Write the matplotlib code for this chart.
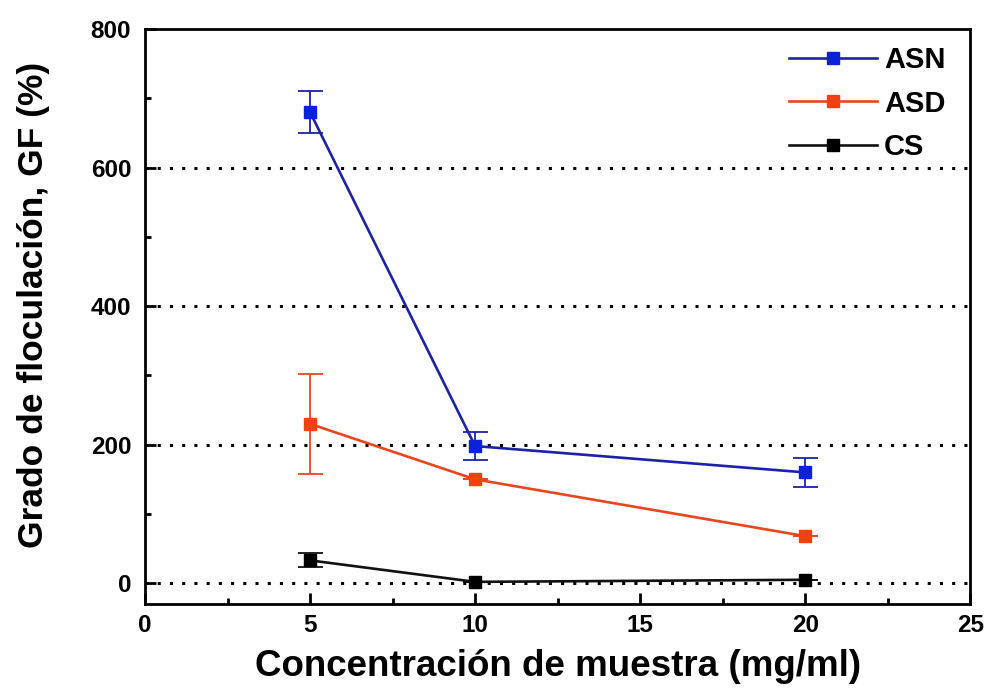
import matplotlib
matplotlib.use("Agg")
import matplotlib.pyplot as plt
from matplotlib.ticker import MultipleLocator

plt.rcParams['font.family'] = ['Liberation Sans', 'DejaVu Sans']
plt.rcParams['font.weight'] = 'bold'

conc = [5, 10, 20]

asn = [680, 198, 160]
asn_err = [30, 20, 21]

asd = [230, 150, 68]
asd_err = [72, 0, 0]

cs = [33, 2, 5]
cs_err = [10, 0, 0]

series = [
    ("ASN", asn, asn_err, "#1c22a6", "#0c22d8"),
    ("ASD", asd, asd_err, "#e8461e", "#f0420f"),
    ("CS", cs, cs_err, "#111111", "#000000"),
]

fig = plt.figure(figsize=(9.9, 6.9), dpi=100)
ax = fig.add_axes([0.1465, 0.1246, 0.8335, 0.8334])

# dotted reference lines
for yv in [0, 200, 400, 600]:
    ax.axhline(yv, color="black", linestyle=(0, (1, 3)), linewidth=2.2, zorder=1)

handles = []
for name, vals, err, lc, mc in series:
    ax.errorbar(conc, vals, yerr=err, fmt="none", ecolor=lc,
                elinewidth=1.3, capsize=9, capthick=1.3, zorder=2)
    ln, = ax.plot(conc, vals, color=lc, linewidth=1.9, marker="s",
                  markersize=9, markerfacecolor=mc, markeredgecolor=mc,
                  label=name, zorder=3)
    handles.append(ln)

ax.set_xlim(0, 25)
ax.set_ylim(-30, 800)
ax.xaxis.set_major_locator(MultipleLocator(5))
ax.xaxis.set_minor_locator(MultipleLocator(2.5))
ax.yaxis.set_major_locator(MultipleLocator(200))
ax.yaxis.set_minor_locator(MultipleLocator(100))
ax.tick_params(which="both", direction="in", top=False, right=False,
               width=2, labelsize=17.5)
ax.tick_params(axis="x", which="major", pad=7)
ax.tick_params(axis="y", which="major", pad=10)
ax.tick_params(which="major", length=8)
ax.tick_params(which="minor", length=4.5)
for lab in ax.get_xticklabels() + ax.get_yticklabels():
    lab.set_fontweight("bold")
for sp in ax.spines.values():
    sp.set_linewidth(2)

ax.set_xlabel("Concentración de muestra (mg/ml)", fontsize=26.5,
              fontweight="bold", labelpad=9)
ax.set_ylabel("Grado de floculación, GF (%)", fontsize=25.5,
              fontweight="bold")
ax.yaxis.set_label_coords(-0.115, 0.52)

leg = ax.legend(handles=handles, loc="upper right",
                bbox_to_anchor=(1 - 7 / 825, 1.0), frameon=False,
                fontsize=21, handlelength=3.0, handletextpad=0.25,
                labelspacing=0.52, borderaxespad=0.2, borderpad=0.4)
for t in leg.get_texts():
    t.set_fontweight("bold")

fig.savefig("out.png", dpi=100)
